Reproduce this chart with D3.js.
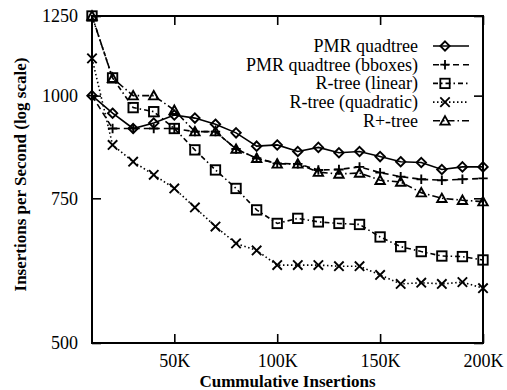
<!DOCTYPE html>
<html>
<head>
<meta charset="utf-8">
<script src="https://cdn.jsdelivr.net/npm/d3@7"></script>
<style>
  body { margin: 0; background: #fff; }
  text { font-family: "Liberation Serif", "Times New Roman", serif; fill: #000; }
</style>
</head>
<body>
<svg id="chart"></svg>
<script>
// cumulative insertions (x) and insertions per second (y, log scale)
const inserts = [10000, 20000, 30000, 40000, 50000, 60000, 70000, 80000, 90000, 100000,
  110000, 120000, 130000, 140000, 150000, 160000, 170000, 180000, 190000, 200000];

const pmrQuadtree = [1000, 952, 912, 926, 947, 939, 923, 901, 868, 871, 855, 865, 852, 855, 843, 831, 829, 813, 819, 819];
const pmrBboxes = [1000, 912, 912, 912, 912, 904, 904, 861, 839, 827, 826, 812, 813, 819, 806, 797, 791, 789, 791, 793];
const rtreeLinear = [1250, 1051, 967, 956, 912, 859, 812, 771, 726, 699, 709, 702, 699, 697, 673, 655, 646, 638, 637, 631];
const rtreeQuadratic = [1110, 871, 831, 801, 771, 731, 693, 661, 648, 622, 622, 622, 620, 620, 605, 590, 592, 590, 593, 583];
const rplusTree = [1250, 1050, 1000, 1000, 960, 904, 904, 861, 839, 826, 826, 807, 803, 805, 789, 785, 762, 750, 746, 743];

const seriesNames = ['PMR quadtree', 'PMR quadtree (bboxes)', 'R-tree (linear)', 'R-tree (quadratic)', 'R+-tree'];
const seriesValues = [pmrQuadtree, pmrBboxes, rtreeLinear, rtreeQuadratic, rplusTree];

const xTicks = [50000, 100000, 150000, 200000];
const xTickLabels = ['50K', '100K', '150K', '200K'];
const yTicks = [500, 750, 1000, 1250];

const W = 507, H = 390;
const margin = { top: 16, right: 24, bottom: 47, left: 92 };
const width = W - margin.left - margin.right;
const height = H - margin.top - margin.bottom;

// line style + marker for each series
const styles = [
  { dash: null, marker: 'diamond' },
  { dash: '6,4', marker: 'plus' },
  { dash: '5,3,1.5,3', marker: 'square' },
  { dash: '1.5,2.5', marker: 'cross' },
  { dash: '7,3,1.5,3', marker: 'triangle' }
];

const svg = d3.select('#chart')
  .attr('width', W)
  .attr('height', H);

const g = svg.append('g')
  .attr('transform', `translate(${margin.left},${margin.top})`);

const x = d3.scaleLinear().domain([10000, 200000]).range([0, width]);
const y = d3.scaleLog().domain([500, 1250]).range([height, 0]);

const TICK = 9;
const fmtX = d => xTickLabels[xTicks.indexOf(d)];

// axes: inward ticks, mirrored on top/right
g.append('g')
  .attr('class', 'x axis')
  .attr('transform', `translate(0,${height})`)
  .call(d3.axisBottom(x).tickValues(xTicks).tickFormat(fmtX).tickSizeInner(-TICK).tickSizeOuter(0).tickPadding(11));

g.append('g')
  .attr('class', 'x2 axis')
  .call(d3.axisTop(x).tickValues(xTicks).tickFormat('').tickSizeInner(-TICK).tickSizeOuter(0));

g.append('g')
  .attr('class', 'y axis')
  .call(d3.axisLeft(y).tickValues(yTicks).tickFormat(d3.format('d')).tickSizeInner(-TICK).tickSizeOuter(0).tickPadding(14));

g.append('g')
  .attr('class', 'y2 axis')
  .attr('transform', `translate(${width},0)`)
  .call(d3.axisRight(y).tickValues(yTicks).tickFormat('').tickSizeInner(-TICK).tickSizeOuter(0));

g.selectAll('.axis path.domain').remove();
g.selectAll('.axis line').attr('stroke', '#000').attr('stroke-width', 1.6);
g.selectAll('.axis text')
  .style('font-family', '"Liberation Serif", serif')
  .style('font-size', '18px')
  .attr('fill', '#000');

// frame
g.append('rect')
  .attr('width', width)
  .attr('height', height)
  .attr('fill', 'none')
  .attr('stroke', '#000')
  .attr('stroke-width', 2);

// axis titles
svg.append('text')
  .attr('x', margin.left + width / 2)
  .attr('y', 387)
  .attr('text-anchor', 'middle')
  .style('font-size', '17px')
  .style('font-weight', 'bold')
  .text('Cummulative Insertions');

svg.append('text')
  .attr('transform', `translate(26,${margin.top + height / 2 - 5}) rotate(-90)`)
  .attr('text-anchor', 'middle')
  .style('font-size', '17px')
  .style('font-weight', 'bold')
  .text('Insertions per Second (log scale)');

function drawMarker(sel, type) {
  const s = 4.7;
  if (type === 'diamond') {
    sel.append('path').attr('d', `M0,${-s}L${s},0L0,${s}L${-s},0Z`);
  } else if (type === 'plus') {
    sel.append('path').attr('d', `M${-s},0H${s}M0,${-s}V${s}`);
  } else if (type === 'square') {
    sel.append('rect').attr('x', -s).attr('y', -s).attr('width', 2 * s).attr('height', 2 * s);
  } else if (type === 'cross') {
    sel.append('path').attr('d', `M${-s},${-s}L${s},${s}M${s},${-s}L${-s},${s}`);
  } else if (type === 'triangle') {
    sel.append('path').attr('d', `M0,${-s}L${s},${s * 0.8}L${-s},${s * 0.8}Z`);
  }
}

const line = d3.line()
  .x((d, i) => x(inserts[i]))
  .y(d => y(d));

seriesValues.forEach((vals, k) => {
  const st = styles[k];
  g.append('path')
    .attr('d', line(vals))
    .attr('fill', 'none')
    .attr('stroke', '#000')
    .attr('stroke-width', 1.6)
    .attr('stroke-dasharray', st.dash);

  vals.forEach((v, i) => {
    const m = g.append('g')
      .attr('transform', `translate(${x(inserts[i])},${y(v)})`)
      .attr('fill', 'none')
      .attr('stroke', '#000')
      .attr('stroke-width', 1.9);
    drawMarker(m, st.marker);
  });
});

// legend
const legend = svg.append('g').attr('class', 'legend');
seriesNames.forEach((name, k) => {
  const ly = 46 + k * 18.7;
  const st = styles[k];
  legend.append('text')
    .attr('x', 418)
    .attr('y', ly + 6)
    .attr('text-anchor', 'end')
    .style('font-size', '18px')
    .text(name);
  legend.append('line')
    .attr('x1', 433).attr('x2', 469)
    .attr('y1', ly).attr('y2', ly)
    .attr('stroke', '#000')
    .attr('stroke-width', 1.6)
    .attr('stroke-dasharray', st.dash);
  const m = legend.append('g')
    .attr('transform', `translate(445,${ly})`)
    .attr('fill', 'none')
    .attr('stroke', '#000')
    .attr('stroke-width', 1.8);
  drawMarker(m, st.marker);
});
</script>
</body>
</html>
